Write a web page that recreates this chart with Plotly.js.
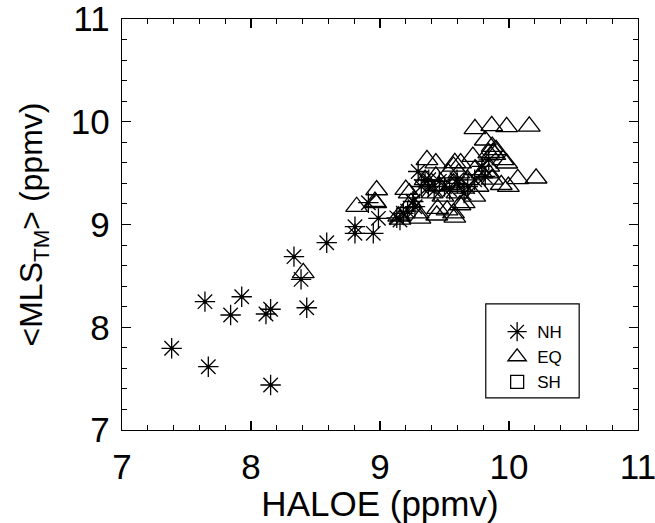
<!DOCTYPE html>
<html>
<head>
<meta charset="utf-8">
<script src="https://cdn.plot.ly/plotly-3.0.1.min.js"></script>
<style>html,body{margin:0;padding:0;background:#fff;}#chart{width:655px;height:523px;}</style>
</head>
<body>
<div id="chart"></div>
<script>
// NH (asterisks)
const nhHaloe = [7.385, 7.643, 7.669, 7.842, 7.928, 8.116, 8.152, 8.152, 8.333, 8.388, 8.432, 8.587,
  8.806, 8.806, 8.948, 8.988, 8.910, 9.155, 9.181, 9.130, 9.214, 9.255, 9.271, 9.258,
  9.296, 9.349, 9.375, 9.378, 9.320, 9.460, 9.500, 9.540, 9.597, 9.652, 9.680, 9.734, 9.790, 9.816, 9.843, 9.420, 9.600];
const nhMls = [7.795, 8.249, 7.616, 8.119, 8.297, 8.129, 8.175, 7.438, 8.687, 8.466, 8.190, 8.823,
  8.979, 8.914, 8.914, 9.060, 9.212, 9.044, 9.109, 9.065, 9.130, 9.226, 9.173, 9.222,
  9.516, 9.433, 9.368, 9.435, 9.370, 9.420, 9.370, 9.340, 9.435, 9.306, 9.370, 9.435, 9.565, 9.468, 9.629, 9.330, 9.400];

// EQ (triangles)
const eqHaloe = [8.405, 8.819, 8.974, 8.961, 8.967, 9.145, 9.155, 9.227, 9.200, 9.241, 9.296, 9.310,
  9.364, 9.433, 9.447, 9.440, 9.580, 9.570, 9.570, 9.625, 9.720, 9.734, 9.816, 9.843, 9.870, 9.900,
  9.953, 9.940, 9.843, 9.790, 9.680, 9.570, 9.460, 9.405, 9.488, 9.597, 9.652, 9.350, 9.529, 9.611,
  9.734, 9.843, 9.625, 9.433, 9.870, 9.760, 9.876, 9.890, 9.580, 9.520, 9.620, 9.995, 9.982,
  9.736, 9.866, 9.982, 10.157, 10.068, 10.210];
const eqMls = [8.530, 9.173, 9.336, 9.222, 9.210, 9.080, 9.050, 9.306, 9.339, 9.210, 9.110, 9.060,
  9.629, 9.597, 9.155, 9.090, 9.070, 9.110, 9.565, 9.597, 9.660, 9.274, 9.820, 9.694, 9.758, 9.726,
  9.629, 9.387, 9.500, 9.500, 9.435, 9.403, 9.371, 9.306, 9.274, 9.306, 9.210, 9.435, 9.500, 9.500,
  9.532, 9.565, 9.370, 9.468, 9.440, 9.370, 9.700, 9.680, 9.600, 9.140, 9.190, 9.368, 9.596,
  9.930, 9.960, 9.950, 9.955, 9.445, 9.450];

// SH (squares) - no points visible in the plot, only in the legend
const shHaloe = [null];
const shMls = [null];

const xTicks = [7, 8, 9, 10, 11];
const yTicks = [7, 8, 9, 10, 11];

const FONT = 'Liberation Sans, Arial, Helvetica, sans-serif';

const traces = [
  {x: nhHaloe, y: nhMls, name: 'NH', type: 'scatter', mode: 'markers',
   marker: {symbol: 'asterisk-open', size: 17, color: 'black', line: {color: 'black', width: 1.3}}},
  {x: nhHaloe, y: nhMls, name: 'NH centre', type: 'scatter', mode: 'markers', showlegend: false,
   marker: {symbol: 'circle', size: 4, color: 'black', line: {width: 0}}},
  {x: eqHaloe, y: eqMls, name: 'EQ', type: 'scatter', mode: 'markers',
   marker: {symbol: 'triangle-up-open', size: 19, color: 'black', line: {color: 'black', width: 1.3}}},
  {x: shHaloe, y: shMls, name: 'SH', type: 'scatter', mode: 'markers',
   marker: {symbol: 'square-open', size: 13, color: 'black', line: {color: 'black', width: 1.3}}}
];

const axisCommon = {
  showline: true, linecolor: 'black', linewidth: 1.3, mirror: 'ticks',
  ticks: 'inside', ticklen: 9, tickwidth: 1.2, tickcolor: 'black',
  showgrid: false, zeroline: false,
  ticklabeloverflow: 'allow',
  tickfont: {family: FONT, size: 35, color: 'black'},
  minor: {dtick: 0.2, ticks: 'inside', ticklen: 5, tickwidth: 1, tickcolor: 'black', showgrid: false}
};

const layout = {
  width: 655, height: 523,
  margin: {l: 122, r: 17, t: 19, b: 93, pad: 0},
  paper_bgcolor: 'white', plot_bgcolor: 'white',
  font: {family: FONT, color: 'black'},
  showlegend: true,
  xaxis: Object.assign({}, axisCommon, {
    range: [7, 11], tickvals: xTicks, ticktext: xTicks.map(String),
    ticklabelstandoff: 6,
    title: {text: 'HALOE (ppmv)', font: {family: FONT, size: 35, color: 'black'}, standoff: 1}
  }),
  yaxis: Object.assign({}, axisCommon, {
    range: [7, 11], tickvals: yTicks, ticktext: yTicks.map(String),
    ticklabelstandoff: 4,
    title: {text: '&lt;MLS<sub>TM</sub>&gt; (ppmv)', font: {family: FONT, size: 32, color: 'black'}, standoff: 18}
  }),
  legend: {
    x: 0.727, y: 0.282, xanchor: 'left', yanchor: 'top',
    bgcolor: 'rgba(0,0,0,0)', borderwidth: 0,
    font: {family: FONT, size: 17, color: 'black'},
    tracegroupgap: 0, itemsizing: 'trace'
  },
  shapes: [
    {type: 'rect', xref: 'paper', yref: 'paper', x0: 0.705, x1: 0.886, y0: 0.078, y1: 0.307,
     line: {color: 'black', width: 1.2}, fillcolor: 'rgba(0,0,0,0)'}
  ]
};

Plotly.newPlot('chart', traces, layout, {displayModeBar: false, staticPlot: true});
</script>
</body>
</html>
